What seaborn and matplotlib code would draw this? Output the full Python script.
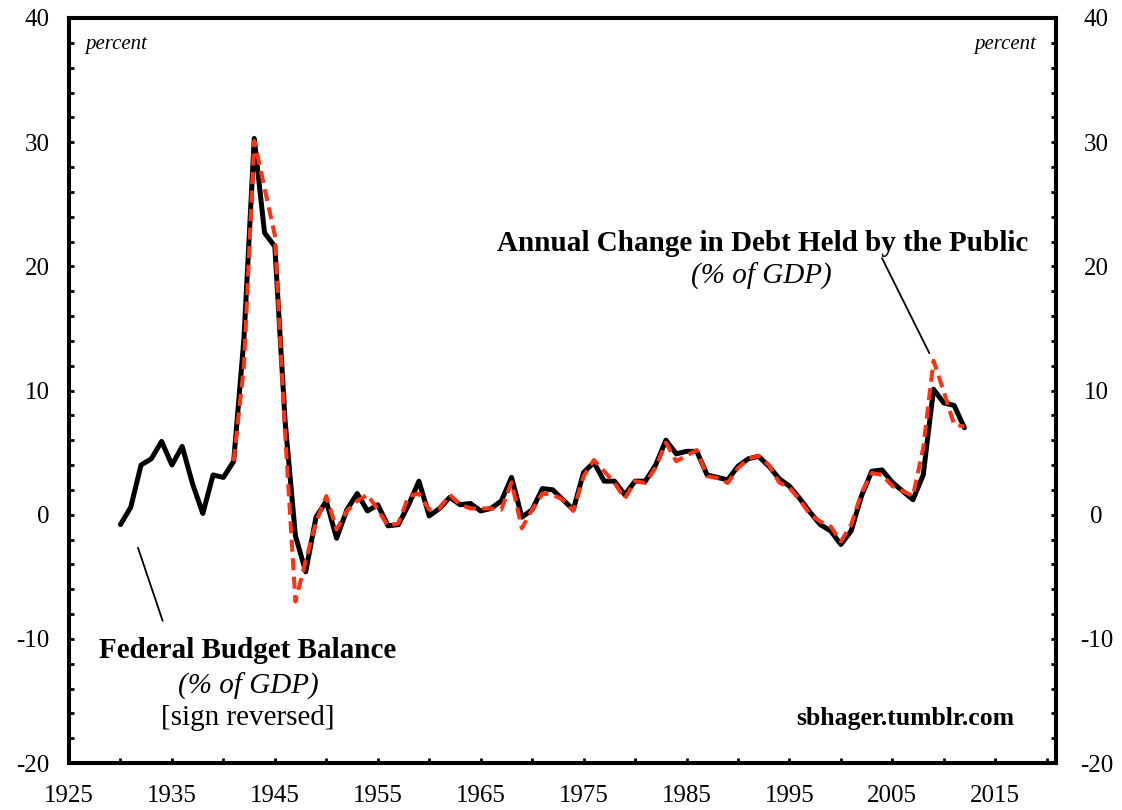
import numpy as np
import pandas as pd
import matplotlib
matplotlib.use("Agg")
import matplotlib.pyplot as plt
from matplotlib.ticker import MultipleLocator
import seaborn as sns

# ---- data ----
balance_years = list(range(1930, 2013))
balance_values = [
    -0.8, 0.6, 4.0, 4.5, 5.9, 4.0, 5.5, 2.5, 0.1, 3.2,          # 1930-1939
    3.0, 4.3, 14.2, 30.3, 22.7, 21.6, 7.5, -1.7, -4.6, -0.2,     # 1940-1949
    1.1, -1.9, 0.4, 1.7, 0.3, 0.8, -0.9, -0.8, 0.8, 2.7,         # 1950-1959
    -0.1, 0.5, 1.4, 0.8, 0.9, 0.3, 0.5, 1.1, 3.0, -0.2,          # 1960-1969
    0.4, 2.1, 2.0, 1.2, 0.4, 3.4, 4.2, 2.7, 2.7, 1.6,            # 1970-1979
    2.7, 2.7, 4.0, 6.0, 4.9, 5.1, 5.1, 3.2, 3.0, 2.8,            # 1980-1989
    3.9, 4.5, 4.7, 3.9, 2.9, 2.3, 1.3, 0.2, -0.8, -1.3,          # 1990-1999
    -2.4, -1.3, 1.5, 3.5, 3.6, 2.6, 1.9, 1.2, 3.2, 10.1,         # 2000-2009
    9.0, 8.8, 7.0,                                               # 2010-2012
]

debt_years = list(range(1941, 2013))
debt_values = [
    4.3, 12.0, 30.1, 26.3, 22.5, 6.5, -7.0, -3.7, -0.6,          # 1941-1949
    1.5, -1.2, 0.3, 1.1, 1.6, 0.4, -0.9, -0.7, 1.5, 1.7,         # 1950-1959
    0.4, 0.5, 1.6, 0.8, 0.5, 0.5, 0.5, 0.4, 2.6, -1.1,           # 1960-1969
    0.4, 1.7, 1.6, 1.2, 0.3, 3.1, 4.4, 3.5, 2.55, 1.3,           # 1970-1979
    2.7, 2.55, 3.8, 5.8, 4.3, 4.75, 5.2, 3.1, 2.95, 2.55,        # 1980-1989
    3.75, 4.5, 4.75, 4.0, 2.6, 2.15, 1.2, 0.0, -0.55, -0.95,     # 1990-1999
    -2.15, -0.8, 1.75, 3.35, 3.2, 2.3, 1.9, 1.5, 5.4, 12.4,      # 2000-2009
    9.9, 7.25, 7.1,                                              # 2010-2012
]

y_ticks = [-20, -10, 0, 10, 20, 30, 40]
x_ticks = [1925, 1935, 1945, 1955, 1965, 1975, 1985, 1995, 2005, 2015]

# ---- style ----
sns.set_theme(style="white")
plt.rcParams["font.family"] = ["Liberation Serif", "DejaVu Serif"]
plt.rcParams["axes.unicode_minus"] = False
plt.rcParams["text.color"] = "black"

fig = plt.figure(figsize=(11.22, 8.10), dpi=100)
ax = fig.add_axes([69 / 1122, 47 / 810, (1056 - 69) / 1122, (763 - 18) / 810])

df_bal = pd.DataFrame({"year": balance_years, "value": balance_values})
df_debt = pd.DataFrame({"year": debt_years, "value": debt_values})

sns.lineplot(data=df_bal, x="year", y="value", ax=ax, color="black",
             linewidth=3.6, zorder=3)
sns.lineplot(data=df_debt, x="year", y="value", ax=ax, color="#ff3314",
             linewidth=2.9, zorder=4)
ax.lines[-1].set_dashes((3.0, 1.6))
ax.lines[-1].set_dash_capstyle("butt")

ax.set_xlim(1925, 2020.9)
ax.set_ylim(-20, 40)
ax.set_xlabel("")
ax.set_ylabel("")

ax.set_xticks(np.arange(1925, 2021, 5))
ax.set_xticklabels([str(y) if y in x_ticks else "" for y in range(1925, 2021, 5)])
ax.set_yticks(y_ticks)
ax.set_yticklabels([str(v) for v in y_ticks])
ax.yaxis.set_minor_locator(MultipleLocator(2))

for s in ax.spines.values():
    s.set_visible(True)
    s.set_linewidth(2.9)
    s.set_color("black")

ax.tick_params(axis="y", which="both", direction="in", left=True, right=True,
               labelleft=True, labelright=False, length=3.6, width=2.0,
               labelsize=18, pad=14, colors="black")
ax.tick_params(axis="x", which="both", direction="in", bottom=True, top=False,
               length=3.6, width=2.0, labelsize=18, pad=16, colors="black")

# right-hand labels (same scale)
ax2 = ax.twinx()
ax2.set_ylim(ax.get_ylim())
ax2.set_yticks(y_ticks)
ax2.set_yticklabels([str(v) for v in y_ticks])
ax2.yaxis.set_minor_locator(MultipleLocator(2))
ax2.tick_params(axis="y", which="both", direction="in", right=True, left=False,
                labelright=True, length=3.6, width=2.0, labelsize=18, pad=29,
                colors="black")
for lab in ax2.get_yticklabels():
    lab.set_horizontalalignment("center")
ax2.grid(False)
for s in ax2.spines.values():
    s.set_linewidth(2.9)
    s.set_color("black")

# ---- texts ----
ax.text(1926.6, 37.9, "percent", fontsize=15, style="italic", ha="left", va="center", color="black")
ax.text(2019.0, 37.9, "percent", fontsize=15, style="italic", ha="right", va="center", color="black")

ax.text(1992.4, 21.85, "Annual Change in Debt Held by the Public", fontsize=21,
        fontweight="bold", ha="center", va="center", color="black")
ax.text(1992.3, 19.2, "(% of GDP)", fontsize=21, style="italic", ha="center", va="center", color="black")

ax.text(1942.4, -10.9, "Federal Budget Balance", fontsize=21, fontweight="bold",
        ha="center", va="center", color="black")
ax.text(1942.4, -13.8, "(% of GDP)", fontsize=21, style="italic", ha="center", va="center", color="black")
ax.text(1942.4, -16.4, "[sign reversed]", fontsize=21, ha="center", va="center", color="black")

ax.text(2006.3, -16.45, "sbhager.tumblr.com", fontsize=18.5, fontweight="bold",
        ha="center", va="center", color="black")

# leader lines
ax.plot([1931.7, 1934.1], [-2.66, -8.55], color="black", linewidth=1.3, zorder=2)
ax.plot([2004.0, 2008.6], [20.65, 13.0], color="black", linewidth=1.3, zorder=2)

fig.savefig("out.png", dpi=100, facecolor="white")
